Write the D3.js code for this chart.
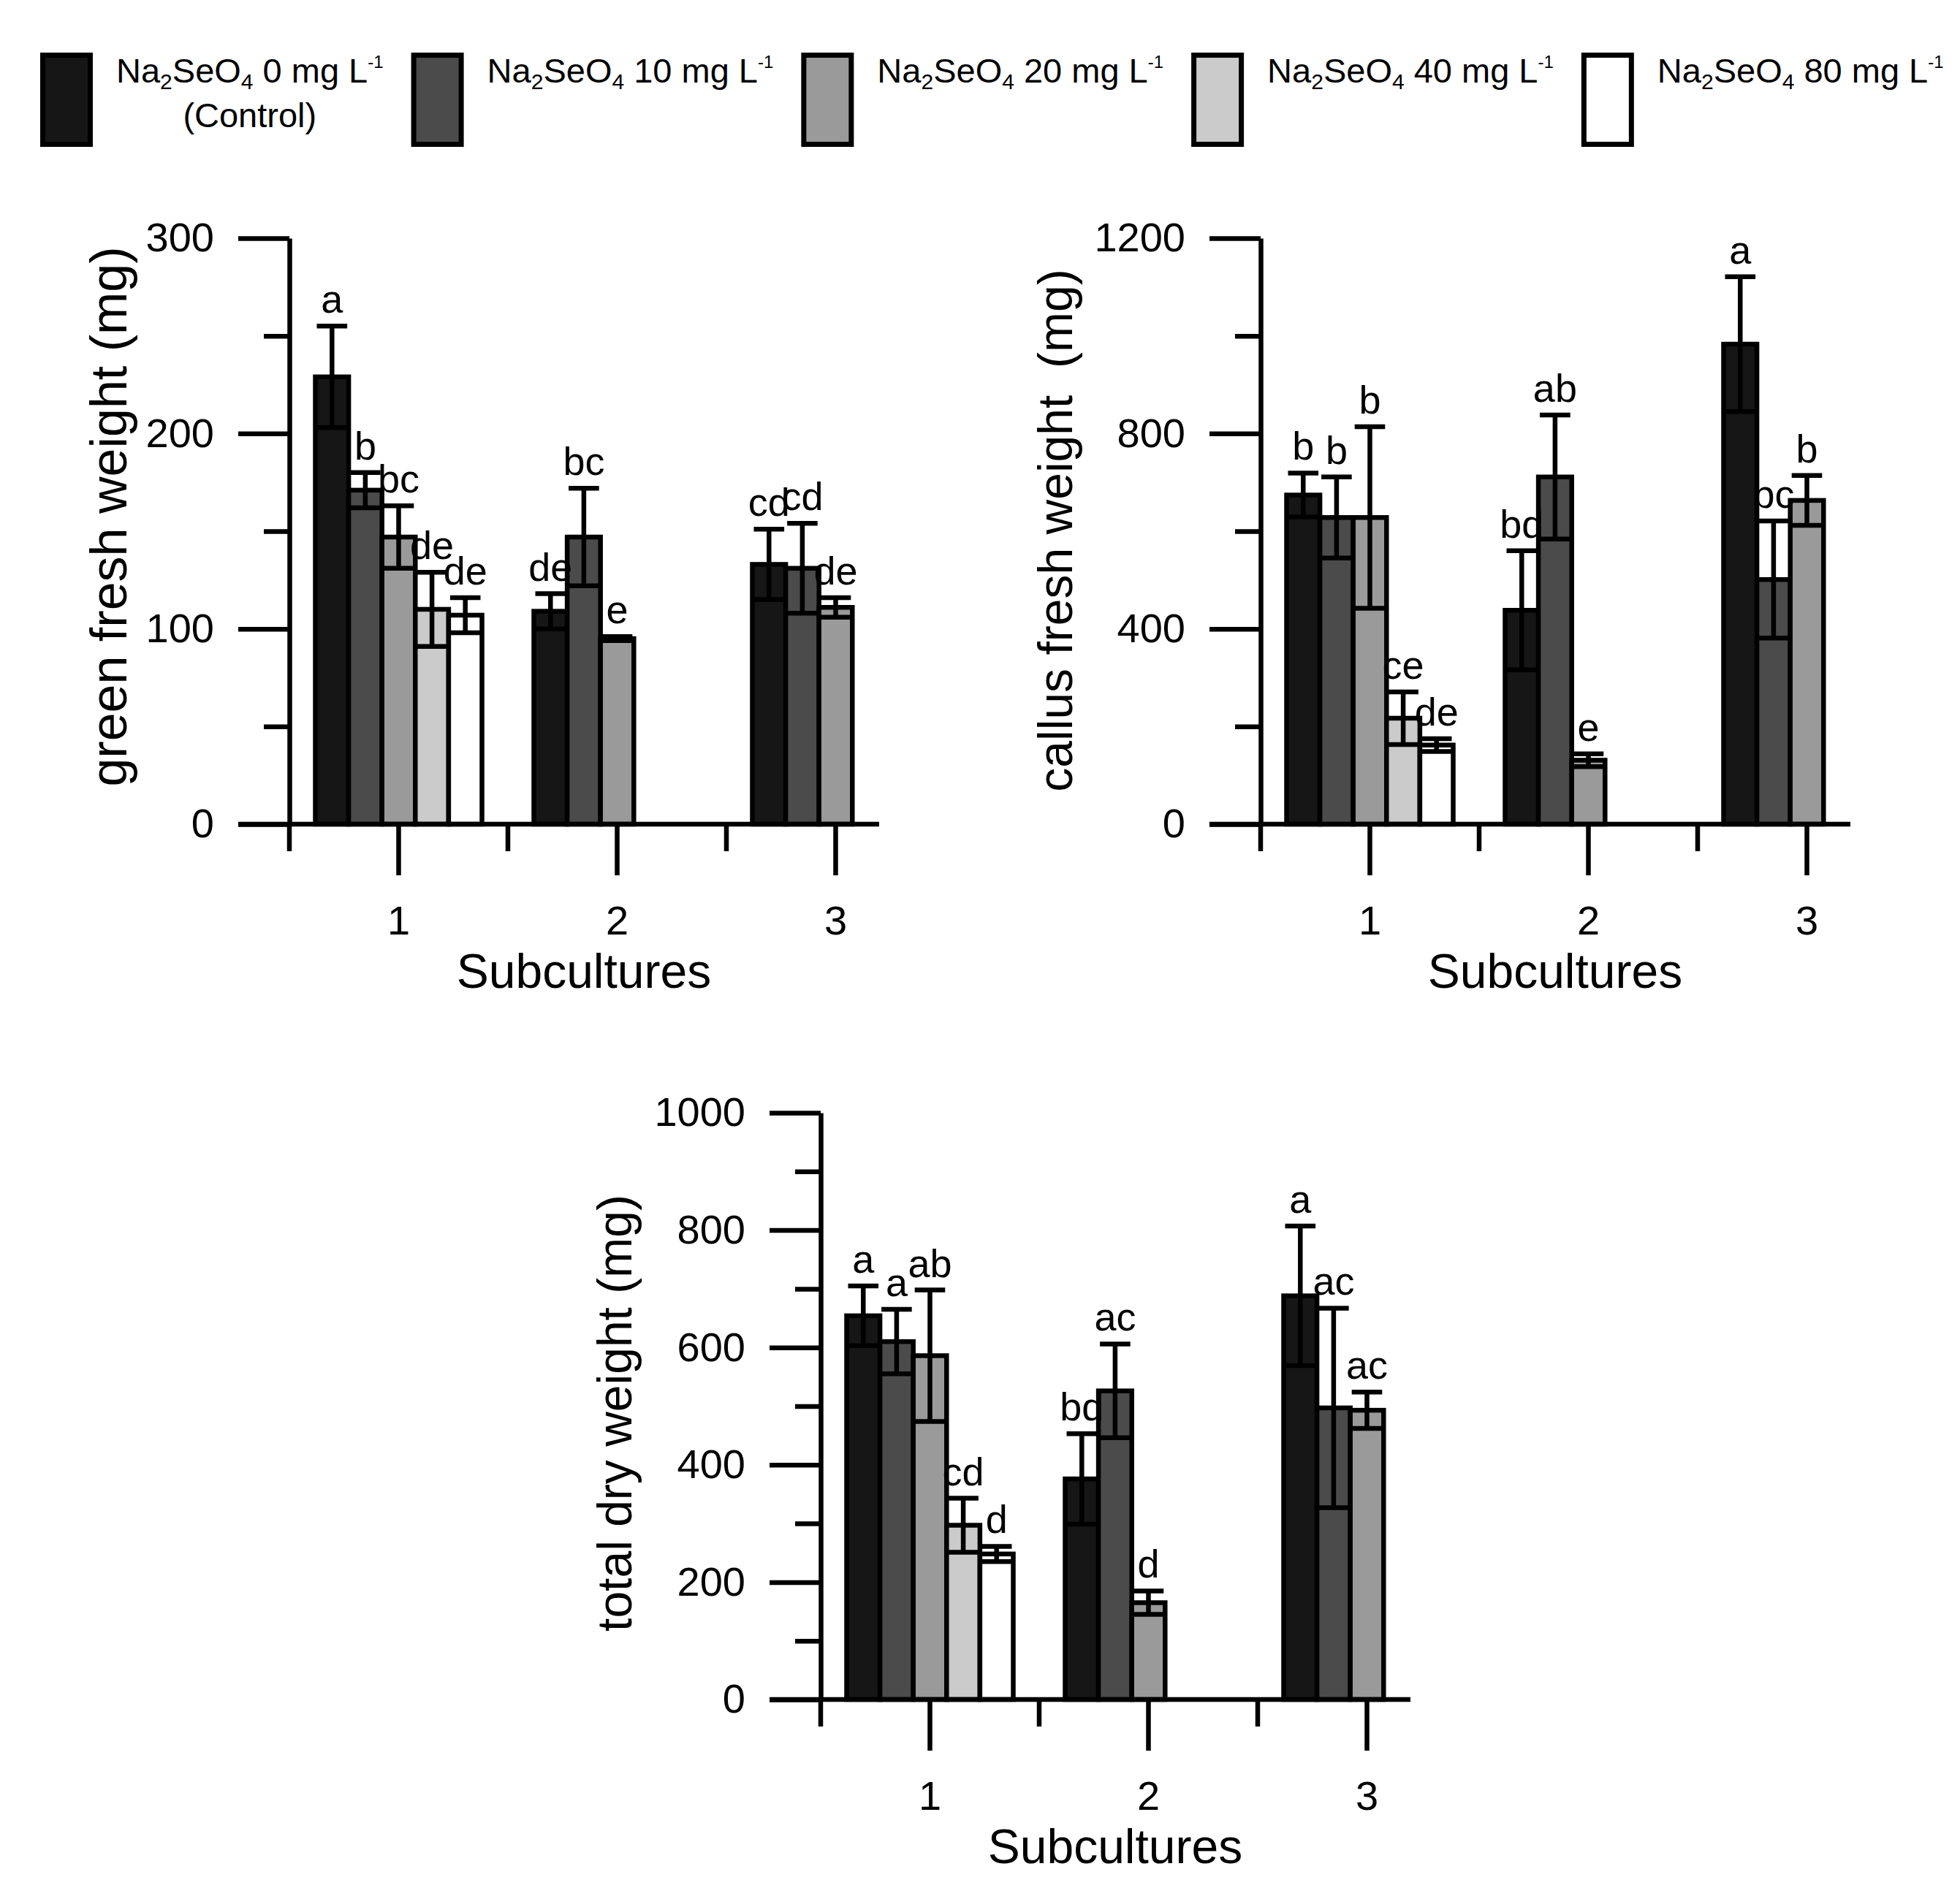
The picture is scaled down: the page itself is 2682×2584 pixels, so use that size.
<!DOCTYPE html>
<html><head><meta charset="utf-8">
<script src="https://cdn.jsdelivr.net/npm/d3@7"></script>
<style>
body{margin:0;background:#fff}
svg{display:block}
text{font-family:"Liberation Sans",Arial,Helvetica,sans-serif;fill:#000;white-space:pre}
</style>
</head><body>
<svg id="c" width="2682" height="2584"></svg>
<script>
// ---------- data ----------
const subcultures = ["1","2","3"];
const doses = ["0","10","20","40","80"];
const doseColors = ["#161616","#4b4b4b","#9a9a9a","#cbcbcb","#ffffff"];

const greenMean = [[229,171,147,110,107],[109,147,95],[133,131,111]];
const greenErr  = [[26,9,16,19,9],[9,25,1],[18,23,5]];
const greenLetters = [["a","b","bc","de","de"],["de","bc","e"],["cd","cd","de"]];

const callusMean = [[674,628,628,217,162],[438,711,131],[983,501,663]];
const callusErr  = [[45,83,186,54,13],[122,127,13],[138,120,51]];
const callusLetters = [["b","b","b","ce","de"],["bd","ab","e"],["a","bc","b"]];

const dryMean = [[654,610,586,297,248],[376,526,165],[688,497,493]];
const dryErr  = [[51,55,112,46,13],[77,80,20],[119,170,31]];
const dryLetters = [["a","a","ab","cd","d"],["bd","ac","d"],["a","ac","ac"]];

const greenTicks = [0,100,200,300], greenMinor = [50,150,250];
const callusTicks = [0,400,800,1200], callusMinor = [200,600,1000];
const dryTicks = [0,200,400,600,800,1000], dryMinor = [100,300,500,700,900];

// ---------- drawing ----------
const svg = d3.select("#c");
const SW = 6.5;

// legend
(function legend(){
  const g = svg.append("g");
  let x = 55;
  const LW = 7;
  doses.forEach((d,i)=>{
    g.append("rect").attr("x",x+LW/2).attr("y",72+LW/2).attr("width",72-LW).attr("height",129-LW)
      .attr("fill",doseColors[i]).attr("stroke","#000").attr("stroke-width",LW);
    const tx = x + 104;
    const t = g.append("text").attr("x",tx).attr("y",113).attr("font-size",47);
    t.append("tspan").text("Na");
    t.append("tspan").attr("font-size",30).attr("dy",9).text("2");
    t.append("tspan").attr("dy",-9).text("SeO");
    t.append("tspan").attr("font-size",30).attr("dy",9).text("4");
    t.append("tspan").attr("dy",-9).text(" " + d + " mg L");
    t.append("tspan").attr("font-size",24).attr("dy",-20).text("-1");
    const w = t.node().getComputedTextLength();
    if(i===0){
      g.append("text").attr("x",tx + w/2).attr("y",174).attr("font-size",47)
        .attr("text-anchor","middle").text("(Control)");
    }
    x = tx + w + 38;
  });
})();

function chart(cfg){
  const {axisX, y0, yTop, domain, ticks, minor, mean, err, letters, title, titleX, titleY, titleSize} = cfg;
  const g = svg.append("g");
  const y = d3.scaleLinear().domain(domain).range([y0, yTop]);
  const step = 299;
  const x = d3.scaleBand().domain(subcultures).range([axisX, axisX + step*subcultures.length]).padding(0);
  const bw = 45.6;
  const inner = d3.scaleBand().domain(doses).range([-2.5*bw, 2.5*bw]).padding(0);

  // bars
  subcultures.forEach((s,gi)=>{
    const cx = x(s) + x.bandwidth()/2;
    mean[gi].forEach((v,bi)=>{
      const bx = cx + inner(doses[bi]);
      g.append("rect").attr("x",bx).attr("y",y(v)).attr("width",bw).attr("height",y(0)-y(v))
        .attr("fill",doseColors[bi]).attr("stroke","#000").attr("stroke-width",SW);
    });
  });
  // error bars + letters
  subcultures.forEach((s,gi)=>{
    const cx = x(s) + x.bandwidth()/2;
    mean[gi].forEach((v,bi)=>{
      const mx = cx + inner(doses[bi]) + bw/2;
      const e = err[gi][bi];
      const top = y(v+e), bot = y(v-e);
      g.append("line").attr("x1",mx).attr("x2",mx).attr("y1",top).attr("y2",bot).attr("stroke","#000").attr("stroke-width",SW);
      [top,bot].forEach(yy=>g.append("line").attr("x1",mx-bw/2+2).attr("x2",mx+bw/2-2).attr("y1",yy).attr("y2",yy)
        .attr("stroke","#000").attr("stroke-width",SW));
      g.append("text").attr("x",mx).attr("y",top-18).attr("font-size",54).attr("text-anchor","middle").text(letters[gi][bi]);
    });
  });

  // y axis major
  const ay = g.append("g").attr("transform",`translate(${axisX},0)`)
    .call(d3.axisLeft(y).tickValues(ticks).tickSize(70).tickSizeOuter(0).tickPadding(33).tickFormat(d3.format("d")));
  ay.selectAll("text").attr("font-size",56).attr("font-family",null);
  ay.selectAll("line,path").attr("stroke","#000").attr("stroke-width",SW);
  const am = g.append("g").attr("transform",`translate(${axisX},0)`)
    .call(d3.axisLeft(y).tickValues(minor).tickSize(35).tickFormat(""));
  am.select(".domain").remove();
  am.selectAll("line").attr("stroke","#000").attr("stroke-width",SW);

  // x axis
  g.append("line").attr("x1",axisX-70).attr("x2",axisX+807).attr("y1",y0).attr("y2",y0).attr("stroke","#000").attr("stroke-width",SW);
  const ax = g.append("g").attr("transform",`translate(0,${y0})`)
    .call(d3.axisBottom(x).tickSize(70).tickPadding(41).tickSizeOuter(0));
  ax.select(".domain").remove();
  ax.selectAll("line").attr("stroke","#000").attr("stroke-width",SW);
  ax.selectAll("text").attr("font-size",56).attr("font-family",null);
  subcultures.forEach(s=>{
    g.append("line").attr("x1",x(s)).attr("x2",x(s)).attr("y1",y0).attr("y2",y0+37).attr("stroke","#000").attr("stroke-width",SW);
  });

  g.append("text").attr("x",axisX+403).attr("y",y0+224).attr("font-size",66).attr("text-anchor","middle").text("Subcultures");
  g.append("text").attr("transform",`translate(${titleX},${titleY}) rotate(-90)`)
    .attr("font-size",titleSize).attr("text-anchor","middle").text(title);
}

chart({axisX:396, y0:1128, yTop:326, domain:[0,300], ticks:greenTicks, minor:greenMinor,
  mean:greenMean, err:greenErr, letters:greenLetters, title:"green fresh weight (mg)", titleX:173, titleY:707, titleSize:70});
chart({axisX:1725, y0:1128, yTop:326, domain:[0,1200], ticks:callusTicks, minor:callusMinor,
  mean:callusMean, err:callusErr, letters:callusLetters, title:"callus fresh weight  (mg)", titleX:1467, titleY:726, titleSize:66});
chart({axisX:1123, y0:2326, yTop:1523, domain:[0,1000], ticks:dryTicks, minor:dryMinor,
  mean:dryMean, err:dryErr, letters:dryLetters, title:"total dry weight (mg)", titleX:864, titleY:1934, titleSize:66});
</script>
</body></html>
